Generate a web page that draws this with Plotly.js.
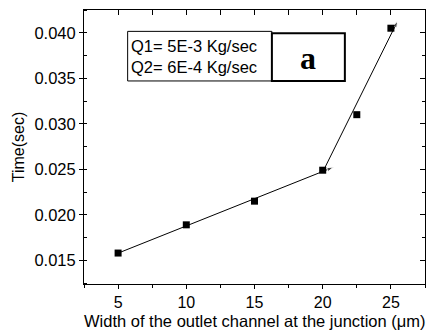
<!DOCTYPE html>
<html>
<head>
<meta charset="utf-8">
<script src="https://cdn.plot.ly/plotly-3.0.1.min.js"></script>
<style>
  html, body { margin: 0; padding: 0; background: #fff; }
  #chart { width: 436px; height: 330px; }
</style>
</head>
<body>
<div id="chart"></div>
<script>
// Measured flow times against outlet channel width
const widths = [5, 10, 15, 20, 22.5, 25];
const times = [0.0158, 0.0189, 0.0215, 0.0249, 0.0310, 0.0405];

// Linear fits for the two regimes (end points of each fitted segment)
const fitLowX = [5, 20.8];
const fitLowY = [0.01579, 0.02524];
const fitHighX = [20.1, 25.5];
const fitHighY = [0.0250, 0.0413];

// Axis ticks
const xTicks = [5, 10, 15, 20, 25];
const yTicks = [0.015, 0.020, 0.025, 0.030, 0.035, 0.040];
const yTickText = ['0.015', '0.020', '0.025', '0.030', '0.035', '0.040'];

const font = 'Liberation Sans, Arial, sans-serif';

const traces = [
  {
    x: fitLowX, y: fitLowY, mode: 'lines+markers', type: 'scatter',
    line: {color: '#000', width: 1},
    marker: {symbol: ['circle', 'arrow'], size: [0, 7], color: '#000', angleref: 'previous'},
    hoverinfo: 'skip'
  },
  {
    x: fitHighX, y: fitHighY, mode: 'lines+markers', type: 'scatter',
    line: {color: '#000', width: 1},
    marker: {symbol: ['circle', 'arrow'], size: [0, 7], color: '#000', angleref: 'previous'},
    hoverinfo: 'skip'
  },
  {
    x: widths, y: times, mode: 'markers', type: 'scatter',
    marker: {symbol: 'square', size: 7, color: '#000'}
  },
  // mirrored frame axes carrying inward ticks
  {x: [], y: [], xaxis: 'x2', yaxis: 'y2', type: 'scatter', hoverinfo: 'skip'}
];

const xRange = [2.5, 27.5];
const yRange = [0.0124, 0.0425];

const layout = {
  width: 436, height: 330,
  margin: {l: 84, r: 11, t: 10, b: 46},
  paper_bgcolor: '#fff', plot_bgcolor: '#fff',
  showlegend: false,
  font: {family: font, color: '#000', size: 16},
  xaxis: {
    range: xRange, tickvals: xTicks, showgrid: false, zeroline: false,
    showline: true, linecolor: '#000', linewidth: 1,
    ticks: 'outside', ticklen: 4, tickcolor: '#000',
    minor: {dtick: 2.5, tick0: 0, ticks: 'outside', ticklen: 3, tickcolor: '#000', showgrid: false},
    tickfont: {family: font, size: 16}
  },
  yaxis: {
    range: yRange, tickvals: yTicks, ticktext: yTickText, showgrid: false, zeroline: false,
    showline: true, linecolor: '#000', linewidth: 1,
    ticks: 'outside', ticklen: 4, tickcolor: '#000',
    minor: {dtick: 0.0025, tick0: 0, ticks: 'inside', ticklen: 3, tickcolor: '#000', showgrid: false},
    tickfont: {family: font, size: 16.5},
    title: {text: 'Time(sec)', font: {family: font, size: 16}, standoff: 5}
  },
  xaxis2: {
    overlaying: 'x', side: 'top', range: xRange, tickvals: xTicks, showticklabels: false,
    showgrid: false, zeroline: false, showline: true, linecolor: '#000', linewidth: 1,
    ticks: 'inside', ticklen: 5, tickcolor: '#000',
    minor: {dtick: 2.5, tick0: 0, ticks: 'inside', ticklen: 5, tickcolor: '#000', showgrid: false}
  },
  yaxis2: {
    overlaying: 'y', side: 'right', range: yRange, tickvals: yTicks, showticklabels: false,
    showgrid: false, zeroline: false, showline: true, linecolor: '#000', linewidth: 1,
    ticks: 'inside', ticklen: 5, tickcolor: '#000',
    minor: {dtick: 0.0025, tick0: 0, ticks: 'inside', ticklen: 3, tickcolor: '#000', showgrid: false}
  },
  shapes: [
    {type: 'rect', xref: 'paper', yref: 'paper', x0: 0.128, x1: 0.551, y0: 0.741, y1: 0.922,
     line: {color: '#000', width: 1}, fillcolor: '#fff', layer: 'above'},
    {type: 'rect', xref: 'paper', yref: 'paper', x0: 0.551, x1: 0.765, y0: 0.741, y1: 0.915,
     line: {color: '#000', width: 2}, fillcolor: '#fff', layer: 'above'}
  ],
  annotations: [
    // x-axis title, set just under the tick labels
    {xref: 'paper', yref: 'paper', x: 0.5, y: 0, xanchor: 'center', yanchor: 'top', yshift: -26,
     text: 'Width of the outlet channel at the junction (\u03bcm)', showarrow: false,
     font: {family: font, size: 16.5, color: '#000'}},
    {xref: 'paper', yref: 'paper', x: 0.131, y: 0.832, xanchor: 'left', yanchor: 'middle',
     text: 'Q1= 5E-3 Kg/sec<br>Q2= 6E-4 Kg/sec', align: 'left', showarrow: false,
     font: {family: font, size: 16.5, color: '#000'}},
    {xref: 'paper', yref: 'paper', x: 0.658, y: 0.825, xanchor: 'center', yanchor: 'middle',
     text: '<b>a</b>', showarrow: false,
     font: {family: 'Liberation Serif, Times New Roman, serif', size: 32, color: '#000'}}
  ]
};

Plotly.newPlot('chart', traces, layout, {staticPlot: true, displayModeBar: false});
</script>
</body>
</html>
